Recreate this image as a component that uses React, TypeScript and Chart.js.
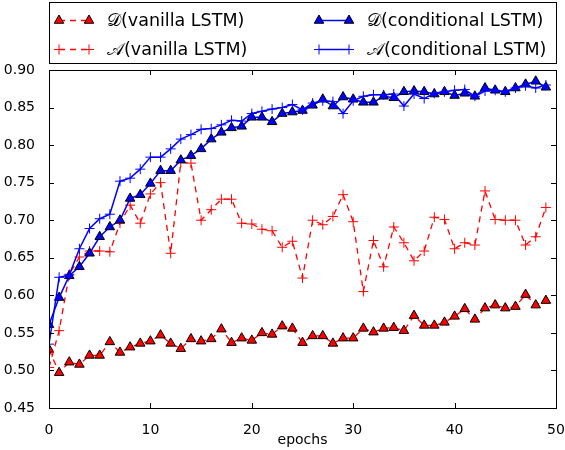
import { useEffect, useRef } from 'react'
import { Chart, registerables } from 'chart.js'
Chart.register(...registerables)

// values
const EPOCHS = [
  0, 1, 2, 3, 4, 5, 6, 7, 8, 9, 10, 11, 12, 13, 14, 15, 16, 17, 18, 19, 20, 21, 22, 23, 24,
  25, 26, 27, 28, 29, 30, 31, 32, 33, 34, 35, 36, 37, 38, 39, 40, 41, 42, 43, 44, 45, 46, 47, 48, 49,
]
const D_VANILLA = [
  0.528, 0.497, 0.511, 0.508, 0.520, 0.520, 0.538, 0.524, 0.531, 0.536,
  0.539, 0.547, 0.536, 0.529, 0.542, 0.539, 0.542, 0.555, 0.537, 0.543,
  0.540, 0.550, 0.548, 0.559, 0.556, 0.537, 0.546, 0.546, 0.536, 0.543,
  0.543, 0.556, 0.551, 0.556, 0.557, 0.553, 0.573, 0.560, 0.560, 0.564,
  0.572, 0.582, 0.568, 0.583, 0.587, 0.583, 0.585, 0.601, 0.587, 0.593,
]
const A_VANILLA = [
  0.504, 0.553, 0.628, 0.651, 0.659, 0.659, 0.658, 0.696, 0.720, 0.696,
  0.735, 0.750, 0.656, 0.777, 0.776, 0.700, 0.714, 0.728, 0.728, 0.696,
  0.695, 0.688, 0.686, 0.664, 0.672, 0.623, 0.700, 0.694, 0.705, 0.734,
  0.698, 0.605, 0.673, 0.638, 0.691, 0.670, 0.646, 0.659, 0.704, 0.701,
  0.662, 0.670, 0.667, 0.739, 0.701, 0.700, 0.700, 0.667, 0.678, 0.717,
]
const D_COND = [
  0.561, 0.597, 0.626, 0.638, 0.656, 0.678, 0.691, 0.700, 0.729, 0.734,
  0.749, 0.766, 0.766, 0.780, 0.786, 0.795, 0.808, 0.817, 0.823, 0.825,
  0.837, 0.837, 0.831, 0.842, 0.844, 0.846, 0.853, 0.861, 0.852, 0.864,
  0.861, 0.857, 0.857, 0.865, 0.863, 0.871, 0.872, 0.871, 0.868, 0.871,
  0.866, 0.869, 0.865, 0.876, 0.873, 0.871, 0.876, 0.881, 0.885, 0.877,
]
const A_COND = [
  0.535, 0.624, 0.627, 0.662, 0.689, 0.702, 0.708, 0.752, 0.756, 0.768,
  0.784, 0.784, 0.795, 0.808, 0.814, 0.821, 0.822, 0.827, 0.833, 0.832,
  0.842, 0.845, 0.848, 0.850, 0.854, 0.847, 0.856, 0.859, 0.858, 0.842,
  0.859, 0.865, 0.867, 0.867, 0.868, 0.852, 0.868, 0.862, 0.869, 0.871,
  0.873, 0.874, 0.865, 0.872, 0.873, 0.871, 0.876, 0.879, 0.876, 0.880,
]
const LABELS = ['𝒟(vanilla LSTM)', '𝒜(vanilla LSTM)', '𝒟(conditional LSTM)', '𝒜(conditional LSTM)']

const FONT = "'DejaVu Sans', sans-serif"
const RED = '#ff0000', BLUE = '#0000ff'

const pts = (ys: number[]) => ys.map((y, i) => ({ x: EPOCHS[i], y }))

function marker(ctx: CanvasRenderingContext2D, style: string, x: number, y: number, r: number, fill: string, stroke: string) {
  ctx.save()
  ctx.setLineDash([])
  ctx.beginPath()
  if (style === 'triangle') {
    for (let k = 0; k < 3; k++) {
      const a = k * 2 * Math.PI / 3
      const px = x + Math.sin(a) * r, py = y - Math.cos(a) * r
      k === 0 ? ctx.moveTo(px, py) : ctx.lineTo(px, py)
    }
    ctx.closePath()
    ctx.fillStyle = fill; ctx.fill()
    ctx.strokeStyle = stroke; ctx.lineWidth = 1; ctx.stroke()
  } else {
    ctx.moveTo(x - r, y); ctx.lineTo(x + r, y)
    ctx.moveTo(x, y - r); ctx.lineTo(x, y + r)
    ctx.strokeStyle = stroke; ctx.lineWidth = 1; ctx.stroke()
  }
  ctx.restore()
}

// frame, inward ticks on all four sides, and the boxed legend above the axes
const framePlugin = {
  id: 'frameLegend',
  afterDraw(chart: any) {
    const { ctx, chartArea: a, scales } = chart
    ctx.save()
    ctx.strokeStyle = '#000'
    ctx.lineWidth = 1
    ctx.beginPath()
    scales.x.ticks.forEach((t: any) => {
      const px = Math.round(scales.x.getPixelForValue(t.value)) + 0.5
      ctx.moveTo(px, a.bottom); ctx.lineTo(px, a.bottom - 5)
      ctx.moveTo(px, a.top); ctx.lineTo(px, a.top + 5)
    })
    scales.y.ticks.forEach((t: any) => {
      const py = Math.round(scales.y.getPixelForValue(t.value)) + 0.5
      ctx.moveTo(a.left, py); ctx.lineTo(a.left + 5, py)
      ctx.moveTo(a.right, py); ctx.lineTo(a.right - 5, py)
    })
    ctx.stroke()
    ctx.strokeRect(Math.round(a.left) + 0.5, Math.round(a.top) + 0.5, Math.round(a.width), Math.round(a.height))

    // legend
    const top = 2.5, bottom = a.top - 6.5
    ctx.fillStyle = '#fff'
    ctx.fillRect(a.left, top, a.width, bottom - top)
    ctx.strokeRect(Math.round(a.left) + 0.5, top, Math.round(a.width), bottom - top)
    ctx.font = `17.5px ${FONT}`
    ctx.textBaseline = 'middle'
    chart.data.datasets.forEach((ds: any, i: number) => {
      const col = i < 2 ? 0 : 1, row = i % 2
      const x0 = a.left + 10 + col * 260, y = top + 18 + row * 29
      const x1 = x0 + 30
      ctx.save()
      ctx.strokeStyle = ds.borderColor
      ctx.lineWidth = ds.borderWidth
      ctx.setLineDash(ds.borderDash || [])
      ctx.beginPath(); ctx.moveTo(x0, y); ctx.lineTo(x1, y); ctx.stroke()
      ctx.restore()
      marker(ctx, ds.pointStyle, x0, y, ds.pointRadius, ds.pointBackgroundColor, ds.pointBorderColor)
      marker(ctx, ds.pointStyle, x1, y, ds.pointRadius, ds.pointBackgroundColor, ds.pointBorderColor)
      ctx.fillStyle = '#000'
      ctx.fillText(ds.label, x1 + 18, y + 1)
    })
    ctx.restore()
  },
}

export default function App() {
  const ref = useRef<HTMLCanvasElement>(null)

  useEffect(() => {
    if (!ref.current) return
    const tick = { color: '#000', font: { size: 14, family: FONT } }
    const chart = new Chart(ref.current, {
      type: 'line',
      data: {
        datasets: [
          { label: LABELS[0], data: pts(D_VANILLA), order: 4, borderColor: RED, borderWidth: 1.3, borderDash: [6, 5],
            pointStyle: 'triangle', pointRadius: 5.5, pointBackgroundColor: RED, pointBorderColor: '#000', pointBorderWidth: 1 },
          { label: LABELS[1], data: pts(A_VANILLA), order: 3, borderColor: RED, borderWidth: 1.3, borderDash: [6, 5],
            pointStyle: 'cross', pointRadius: 5, pointBackgroundColor: RED, pointBorderColor: RED, pointBorderWidth: 1 },
          { label: LABELS[2], data: pts(D_COND), order: 2, borderColor: BLUE, borderWidth: 1.5,
            pointStyle: 'triangle', pointRadius: 5.5, pointBackgroundColor: BLUE, pointBorderColor: '#000', pointBorderWidth: 1 },
          { label: LABELS[3], data: pts(A_COND), order: 1, borderColor: BLUE, borderWidth: 1.5,
            pointStyle: 'cross', pointRadius: 5, pointBackgroundColor: BLUE, pointBorderColor: BLUE, pointBorderWidth: 1 },
        ] as any,
      },
      options: {
        animation: false,
        responsive: true,
        maintainAspectRatio: false,
        layout: { padding: { top: 70, right: 9, left: 0, bottom: 0 } },
        datasets: { line: { clip: 0, tension: 0 } } as any,
        plugins: { legend: { display: false }, tooltip: { enabled: false } },
        scales: {
          x: {
            type: 'linear', min: 0, max: 50,
            ticks: { ...tick, stepSize: 10, padding: 6 },
            grid: { display: false }, border: { display: false },
            title: { display: true, text: 'epochs', color: '#000', font: { size: 14, family: FONT }, padding: { top: 2, bottom: 1 } },
            afterFit: (s: any) => { s.height = 42; s.paddingLeft = 0; s.paddingRight = 0 },
          },
          y: {
            min: 0.45, max: 0.9,
            ticks: { ...tick, stepSize: 0.05, padding: 6, callback: (v: any) => (+v).toFixed(2) },
            grid: { display: false }, border: { display: false },
            afterFit: (s: any) => { s.width = 49; s.paddingTop = 0; s.paddingBottom = 0 },
          },
        },
      },
      plugins: [framePlugin],
    })
    return () => { chart.destroy() }
  }, [])

  return (
    <div style={{ position: 'absolute', left: 0, top: 0, width: 565, height: 450, background: '#fff' }}>
      <canvas ref={ref} />
    </div>
  )
}
